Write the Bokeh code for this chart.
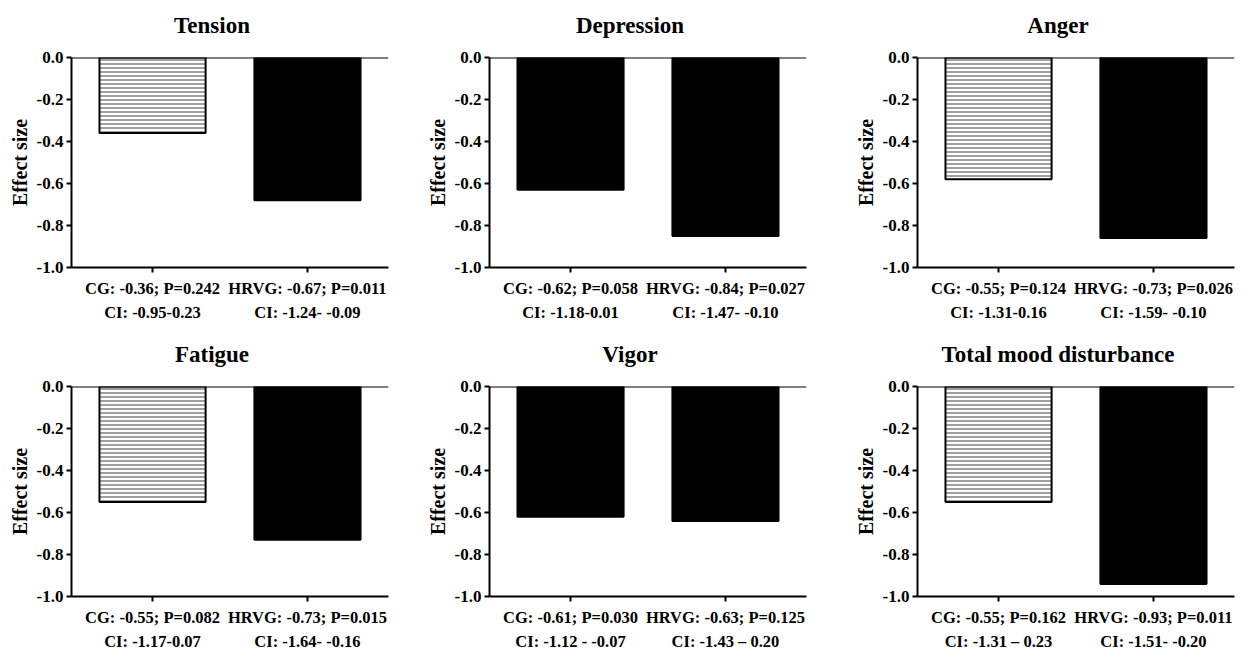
from bokeh.plotting import figure
from bokeh.layouts import column, row
from bokeh.models import FixedTicker, Span, Range1d, PrintfTickFormatter
from bokeh.core.properties import value
from bokeh.embed import file_html
from bokeh.resources import INLINE

titles = ["Tension", "Depression", "Anger", "Fatigue", "Vigor", "Total mood disturbance"]
groups = ["CG", "HRVG"]
cg_values = [-0.36, -0.63, -0.58, -0.55, -0.62, -0.55]
hrvg_values = [-0.68, -0.85, -0.86, -0.73, -0.64, -0.94]
cg_hatched = [True, False, True, True, False, True]
cg_labels = [
    "CG: -0.36; P=0.242\nCI: -0.95-0.23",
    "CG: -0.62; P=0.058\nCI: -1.18-0.01",
    "CG: -0.55; P=0.124\nCI: -1.31-0.16",
    "CG: -0.55; P=0.082\nCI: -1.17-0.07",
    "CG: -0.61; P=0.030\nCI: -1.12 - -0.07",
    "CG: -0.55; P=0.162\nCI: -1.31 \u2013 0.23",
]
hrvg_labels = [
    "HRVG: -0.67; P=0.011\nCI: -1.24- -0.09",
    "HRVG: -0.84; P=0.027\nCI: -1.47- -0.10",
    "HRVG: -0.73; P=0.026\nCI: -1.59- -0.10",
    "HRVG: -0.73; P=0.015\nCI: -1.64- -0.16",
    "HRVG: -0.63; P=0.125\nCI: -1.43 \u2013 0.20",
    "HRVG: -0.93; P=0.011\nCI: -1.51- -0.20",
]
y_ticks = [0.0, -0.2, -0.4, -0.6, -0.8, -1.0]
y_label = "Effect size"

FONT = "Liberation Serif"
border_left = [71, 71, 71]
border_right = [30, 40, 16]
frame_w, frame_h = 317, 210
x_lo, x_hi = -0.523, 1.523
title_h = 45


def make_title(i):
    col = i % 3
    t = figure(
        frame_width=frame_w, frame_height=title_h,
        x_range=Range1d(x_lo, x_hi), y_range=Range1d(0, title_h),
        output_backend="svg", toolbar_location=None,
        min_border_left=border_left[col], min_border_right=border_right[col],
        min_border_top=0, min_border_bottom=0,
    )
    t.axis.visible = False
    t.grid.visible = False
    t.outline_line_color = None
    t.text(x=[0.384], y=[title_h - 25], text=[titles[i]],
           text_align="center", text_baseline="middle",
           text_font=value(FONT), text_font_style="bold",
           text_font_size="23px", text_color="black")
    return t


def make_panel(i):
    col = i % 3
    top_row = i < 3
    p = figure(
        frame_width=frame_w, frame_height=frame_h,
        x_range=Range1d(x_lo, x_hi), y_range=Range1d(-1.0, 0.0),
        output_backend="svg", toolbar_location=None,
        min_border_left=border_left[col], min_border_right=border_right[col],
        min_border_top=12, min_border_bottom=62 if top_row else 50,
    )
    p.outline_line_color = None
    p.xgrid.visible = False
    p.ygrid.visible = False

    if cg_hatched[i]:
        p.vbar(x=[0], top=[0], bottom=[cg_values[i]], width=0.685,
               fill_color="white", line_color="black", line_width=2,
               hatch_pattern="horizontal_line", hatch_scale=4, hatch_weight=1.4,
               hatch_color="#777777")
    else:
        p.vbar(x=[0], top=[0], bottom=[cg_values[i]], width=0.685,
               fill_color="black", line_color="black", line_width=2)
    p.vbar(x=[1], top=[0], bottom=[hrvg_values[i]], width=0.685,
           fill_color="black", line_color="black", line_width=2)

    p.add_layout(Span(location=0, dimension="width", line_color="black", line_width=2))

    # y axis
    ya = p.yaxis[0]
    ya.ticker = FixedTicker(ticks=y_ticks)
    ya.formatter = PrintfTickFormatter(format="%.1f")
    ya.minor_tick_line_color = None
    ya.major_tick_in = 0
    ya.major_tick_out = 5
    ya.major_tick_line_width = 2
    ya.axis_line_width = 2
    ya.axis_line_color = "black"
    ya.major_label_text_font = FONT
    ya.major_label_text_font_style = "bold"
    ya.major_label_text_font_size = "17px"
    ya.major_label_text_color = "black"
    ya.major_label_standoff = 3
    ya.axis_label = y_label
    ya.axis_label_text_font = FONT
    ya.axis_label_text_font_style = "bold"
    ya.axis_label_text_font_size = "20px"
    ya.axis_label_text_color = "black"
    ya.axis_label_standoff = 3

    # x axis
    xa = p.xaxis[0]
    xa.ticker = FixedTicker(ticks=[0, 1])
    xa.major_label_overrides = {0: cg_labels[i], 1: hrvg_labels[i]}
    xa.minor_tick_line_color = None
    xa.major_tick_in = 0
    xa.major_tick_out = 5
    xa.major_tick_line_width = 2
    xa.axis_line_width = 2
    xa.axis_line_color = "black"
    xa.major_label_text_font = FONT
    xa.major_label_text_font_style = "bold"
    xa.major_label_text_font_size = "16.5px"
    xa.major_label_text_color = "black"
    xa.major_label_text_line_height = 1.3
    xa.major_label_standoff = 6
    return p


cells = [column(make_title(i), make_panel(i), spacing=0) for i in range(6)]
layout = column(row(*cells[:3], spacing=0), row(*cells[3:], spacing=0), spacing=0)

open("out.html", "w").write(file_html(layout, INLINE))
